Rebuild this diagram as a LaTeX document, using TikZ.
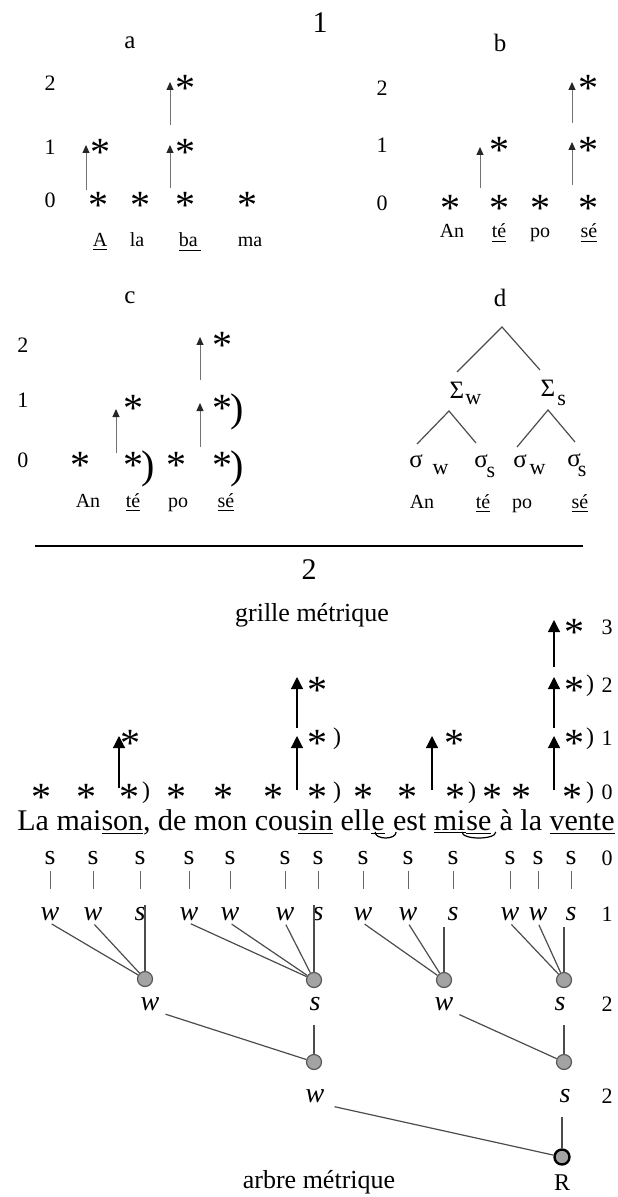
\documentclass[tikz,border=0pt]{standalone}
\usepackage{fontspec}
\setmainfont{Liberation Serif}
\usetikzlibrary{arrows.meta}

\newcommand{\fsz}[1]{\fontsize{#1}{#1}\selectfont}
% closing bracket after a star: small grid (c) and large grid (2)
\newcommand{\brc}{\rlap{\kern-1pt)}}
\newcommand{\brg}[1]{\rlap{\kern#1\raisebox{6.4pt}{\fsz{12})}}}
% greek letter with a lowered index
\newcommand{\idx}[3]{\rlap{\kern#1\raisebox{#2}{\fsz{11}#3}}}

\begin{document}
\begin{tikzpicture}[x=0.5pt,y=-0.5pt,
    star/.style={font=\fsz{20},inner sep=0pt,anchor=base,yshift=-9.4pt,
      text depth=-4.5pt},
    digit/.style={font=\fsz{11},inner sep=0pt},
    title/.style={font=\fsz{15},inner sep=0pt},
    panel/.style={font=\fsz{12.5},inner sep=0pt},
    syl/.style={font=\fsz{10},inner sep=0pt,anchor=base},
    greek/.style={font=\fsz{12.5},inner sep=0pt},
    sent/.style={font=\fsz{15},inner sep=0pt,anchor=base west},
    plain/.style={font=\fsz{14},inner sep=1pt},
    metr/.style={font=\fsz{14}\itshape,inner sep=1pt},
    small up/.style={draw=black!55,line width=0.5pt,
      -{Triangle[length=4pt,width=3.5pt,color=black!85]}},
    big up/.style={line width=0.6pt,-{Triangle[length=6pt,width=6pt]}},
    branch/.style={draw=black!70,line width=0.6pt},
    bar/.style={draw=black!60,line width=0.5pt,shorten <=2pt,shorten >=8pt},
    tie/.style={line width=0.6pt},
    knot/.style={circle,draw=black!65,line width=0.6pt,fill=kKnot,
      minimum size=7.5pt,inner sep=0pt},
    root/.style={knot,draw=black,line width=1.2pt},
  ]
  \definecolor{kKnot}{rgb}{0.64,0.64,0.64}
  \useasboundingbox (0,0) rectangle (617,1197);

  \node[title] (t-1) at (320,23) {1};

  % a
  \node[panel] (pa) at (130,43) {a};
  \foreach \n/\y in {0/200,1/147,2/83}
    \node[digit] (pa-\n) at (50,\y) {\n};
  \foreach \x/\y [count=\i] in {98/200,140/200,185/200,247/200,100/147,185/147,185/83}
    \node[star] (pa-s\i) at (\x,\y) {*};
  \draw[small up] (86,190) -- (86,145);
  \draw[small up] (170,188) -- (170,145);
  \draw[small up] (170,125) -- (170,82);
  \foreach \x/\w [count=\i] in {100/\underline{A},137/la,190/\underline{ba\,},250/ma}
    \node[syl] (pa-w\i) at (\x,247) {\w};

  % b
  \node[panel] (pb) at (500,43) {b};
  \foreach \n/\y in {0/203,1/145,2/88}
    \node[digit] (pb-\n) at (382,\y) {\n};
  \foreach \x/\y [count=\i] in {450/203,499/203,540/203,588/203,499/145,588/145,588/83}
    \node[star] (pb-s\i) at (\x,\y) {*};
  \draw[small up] (480,188) -- (480,147);
  \draw[small up] (572,185) -- (572,142);
  \draw[small up] (572,123) -- (572,82);
  \foreach \x/\w [count=\i] in {452/An,499/\underline{té},540/po,589/\underline{sé}}
    \node[syl] (pb-w\i) at (\x,238) {\w};

  % c
  \node[panel] (pc) at (130,298) {c};
  \foreach \n/\y in {0/460,1/400,2/345}
    \node[digit] (pc-\n) at (23,\y) {\n};
  \foreach \x/\y [count=\i] in {80/460,176/460,133/403,222/340}
    \node[star] (pc-s\i) at (\x,\y) {*};
  \foreach \x/\y [count=\i] in {133/460,222/460,222/403}
    \node[star] (pc-b\i) at (\x,\y) {*\brc};
  \draw[small up] (116,453) -- (116,409);
  \draw[small up] (200,447) -- (200,403);
  \draw[small up] (200,380) -- (200,337);
  \foreach \x/\w [count=\i] in {88/An,133/\underline{té},178/po,226/\underline{sé}}
    \node[syl] (pc-w\i) at (\x,507) {\w};

  % d
  \node[panel] (pd) at (500,298) {d};
  \coordinate (top) at (502,327);
  \coordinate (lft) at (449,411);
  \coordinate (rgt) at (548,410);
  \draw[branch] (457,372) -- (top) -- (540,370);
  \draw[branch] (417,444) -- (lft) -- (476,443);
  \draw[branch] (517,447) -- (rgt) -- (575,442);
  \node[greek] (Sw) at (457,393) {Σ\idx{0.5pt}{-3pt}{w}};
  \node[greek] (Ss) at (548,393) {Σ\idx{1pt}{-4.5pt}{s}};
  \node[greek] (sw1) at (416,465) {σ\idx{5pt}{-3.5pt}{w}};
  \node[greek] (ss1) at (481,466) {σ\idx{-0.5pt}{-5pt}{s}};
  \node[greek] (sw2) at (520,465) {σ\idx{1.5pt}{-3.5pt}{w}};
  \node[greek] (ss2) at (574,465) {σ\idx{-1.5pt}{-5pt}{s}};
  \foreach \x/\w [count=\i] in {422/An,483/\underline{té},522/po,580/\underline{sé}}
    \node[syl] (pd-w\i) at (\x,508) {\w};

  \draw[line width=0.75pt] (35,546) -- (583,546);

  % 2 : grid
  \node[title] (t-2) at (309,570) {2};
  \node[font=\fsz{13},inner sep=0pt] (grid) at (312,615) {grille métrique};
  \foreach \x [count=\i] in {42,86,176,223,273,363,407,492,521}
    \node[star] (g0-\i) at (\x,792) {*};
  \foreach \x/\k [count=\i] in {129/1.5pt,317/3pt,455/1.5pt,572/2pt}
    \node[star] (g0-b\i) at (\x,792) {*\brg{\k}};
  \foreach \x [count=\i] in {130,454}
    \node[star] (g1-\i) at (\x,738) {*};
  \foreach \x/\k [count=\i] in {317/3pt,574/1pt}
    \node[star] (g1-b\i) at (\x,738) {*\brg{\k}};
  \node[star] (g2-1) at (317,685) {*};
  \node[star] (g2-b1) at (574,685) {*\brg{1pt}};
  \node[star] (g3-1) at (574,627) {*};
  \foreach \n/\y in {0/792,1/738,2/685,3/627}
    \node[digit] (g-\n) at (607,\y) {\n};
  \draw[big up] (119,788) -- (119,736);
  \draw[big up] (297,790) -- (297,736);
  \draw[big up] (297,728) -- (297,677);
  \draw[big up] (432,790) -- (432,736);
  \draw[big up] (554,790) -- (554,736);
  \draw[big up] (554,728) -- (554,677);
  \draw[big up] (554,667) -- (554,620);

  % sentence
  \node[sent] (p1) at (17,830) {La mai\underline{son}, de mon cou\underline{sin} ell};
  \node[sent] (p2) at (p1.base east) {\underline{e}};
  \node[sent] (p3) at (p2.base east) {\ est \underline{mi}};
  \node[sent] (p4) at (p3.base east) {\underline{se}};
  \node[sent] (p5) at (p4.base east) {\ à la \underline{vente}};
  \draw[tie] ([xshift=-1.5pt,yshift=-1pt]p2.base) .. controls +(0,-4pt) and +(0,-4pt) .. ([xshift=9pt,yshift=-1pt]p2.base);
  \draw[tie] ([xshift=-2pt,yshift=-1pt]p4.base west) .. controls +(0,-4pt) and +(0,-4pt) .. ([xshift=2pt,yshift=-1pt]p4.base east);

  % metrical tree
  \foreach \x/\w [count=\i] in {50/w,93/w,140/s,189/w,230/w,285/w,318/s,363/w,408/w,453/s,510/w,538/w,571/s}
  {
    \node[plain] (s-\i) at (\x,858) {s};
    \node[metr] (l-\i) at (\x,914) {\w};
    \draw[bar] (s-\i) -- (l-\i);
  }
  \node[digit] (tr-0) at (607,858) {0};
  \node[digit] (tr-1) at (607,914) {1};

  \node[knot] (c1) at (145,979) {};
  \node[knot] (c2) at (314,980) {};
  \node[knot] (c3) at (444,980) {};
  \node[knot] (c4) at (564,980) {};
  \foreach \i/\c in {1/c1,2/c1,4/c2,5/c2,6/c2,8/c3,9/c3,11/c4,12/c4}
    \draw[branch,shorten <=1pt] (l-\i.south) -- (\c);
  \draw[branch] (c1 |- l-3.north) -- (c1);
  \draw[branch] (c2 |- l-7.north) -- (c2);
  \draw[branch,shorten <=2pt] (c3 |- l-10.south) -- (c3);
  \draw[branch,shorten <=2pt] (c4 |- l-13.south) -- (c4);

  \node[metr] (m1) at (150,1004) {w};
  \node[metr] (m2) at (315,1004) {s};
  \node[metr] (m3) at (444,1004) {w};
  \node[metr] (m4) at (560,1004) {s};
  \node[digit] (tr-2) at (607,1004) {2};
  \node[knot] (c5) at (314,1062) {};
  \node[knot] (c6) at (564,1062) {};
  \draw[branch,shorten <=2pt] (m1.south east) -- (c5);
  \draw[branch,shorten <=6pt] (c5 |- m2.south) -- (c5);
  \draw[branch,shorten <=2pt] (m3.south east) -- (c6);
  \draw[branch,shorten <=6pt] (c6 |- m4.south) -- (c6);

  \node[metr] (n1) at (315,1096) {w};
  \node[metr] (n2) at (565,1096) {s};
  \node[digit] (tr-3) at (607,1096) {2};
  \node[root] (R) at (562,1157) {};
  \draw[branch,shorten <=4pt] (n1.south east) -- (R);
  \draw[branch,shorten <=6pt] (R |- n2.south) -- (R);

  \node[font=\fsz{13},inner sep=0pt] (tree) at (319,1182) {arbre métrique};
  \node[font=\fsz{12},inner sep=0pt] (R-l) at (562,1183) {R};

\end{tikzpicture}
\end{document}
